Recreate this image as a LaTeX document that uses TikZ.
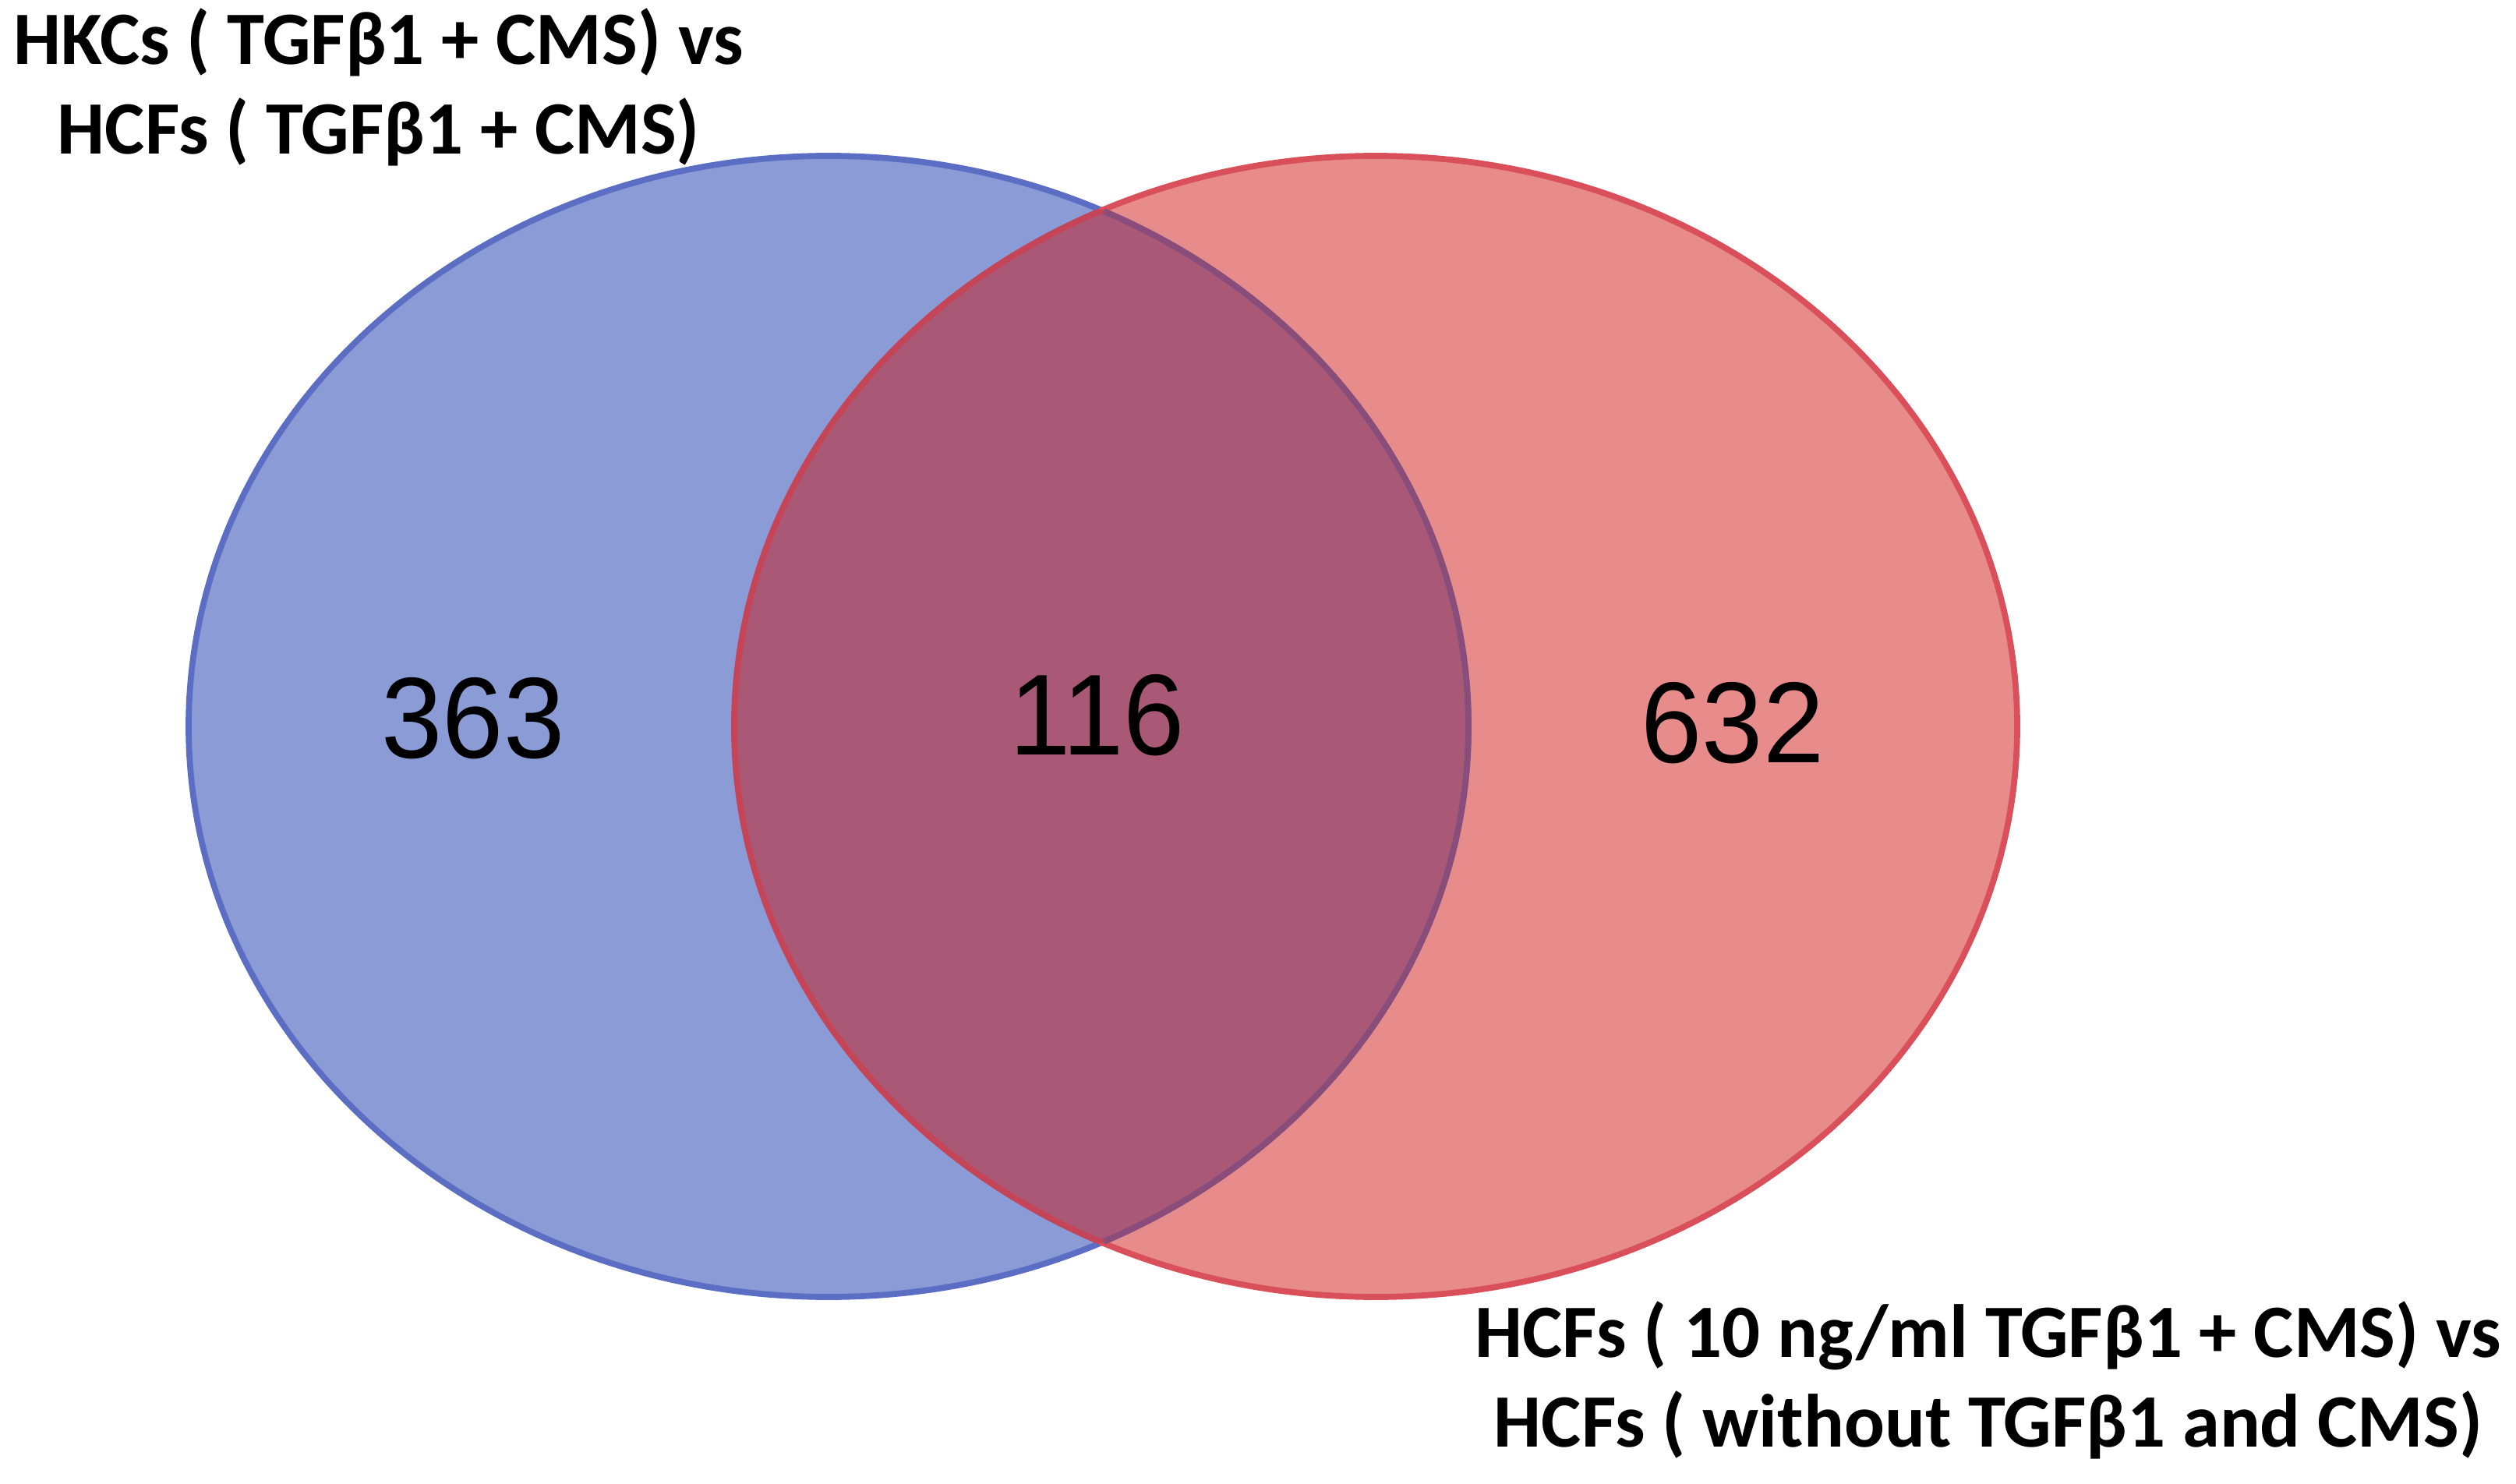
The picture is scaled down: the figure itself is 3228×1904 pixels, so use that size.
\documentclass[tikz,border=0pt]{standalone}
\usepackage{fontspec}
\setmainfont{Carlito}
\newfontfamily\numfont{Liberation Sans}
\definecolor{bluefill}{HTML}{8A9BD6}
\definecolor{blueline}{HTML}{5B6EC4}
\definecolor{redfill}{HTML}{E88B8B}
\definecolor{redline}{HTML}{D9505A}
\definecolor{mixfill}{HTML}{A95875}
\definecolor{mixblueline}{HTML}{8A4C78}
\definecolor{mixredline}{HTML}{C44458}
\begin{document}
\begin{tikzpicture}[x=0.01cm,y=-0.01cm,
  setlabel/.style={font=\fontsize{27.5}{32.5}\selectfont\bfseries, align=center, inner sep=0pt},
  countlabel/.style={font=\numfont\fontsize{40}{44}\selectfont, inner sep=0pt, yscale=1.05}]
\useasboundingbox (0,0) rectangle (3228,1904);
\fill[white] (0,0) rectangle (3228,1904);
% ellipses
\fill[bluefill] (1063,932) ellipse [x radius=821, y radius=732];
\fill[redfill] (1765,932) ellipse [x radius=823, y radius=732];
\begin{scope}
  \clip (1063,932) ellipse [x radius=821, y radius=732];
  \fill[mixfill] (1765,932) ellipse [x radius=823, y radius=732];
\end{scope}
\draw[blueline, line width=2.2pt] (1063,932) ellipse [x radius=821, y radius=732];
\draw[redline, line width=2.2pt] (1765,932) ellipse [x radius=823, y radius=732];
\begin{scope}
  \clip (1765,932) ellipse [x radius=823, y radius=732];
  \draw[mixblueline, line width=2.2pt] (1063,932) ellipse [x radius=821, y radius=732];
\end{scope}
\begin{scope}
  \clip (1063,932) ellipse [x radius=821, y radius=732];
  \draw[mixredline, line width=2.2pt] (1765,932) ellipse [x radius=823, y radius=732];
\end{scope}
% counts
\node[countlabel] (a) at (607,922) {363};
\node[countlabel] (ab) at (1408,918) {116};
\node[countlabel] (b) at (2223,928) {632};
% set labels
\node[setlabel] (la) at (486,112) {HKCs ( TGFβ1 + CMS) vs\\HCFs ( TGFβ1 + CMS)};
\node[setlabel] (lb) at (2551,1771) {HCFs ( 10 ng/ml TGFβ1 + CMS) vs\\HCFs ( without TGFβ1 and CMS)};
\end{tikzpicture}
\end{document}
